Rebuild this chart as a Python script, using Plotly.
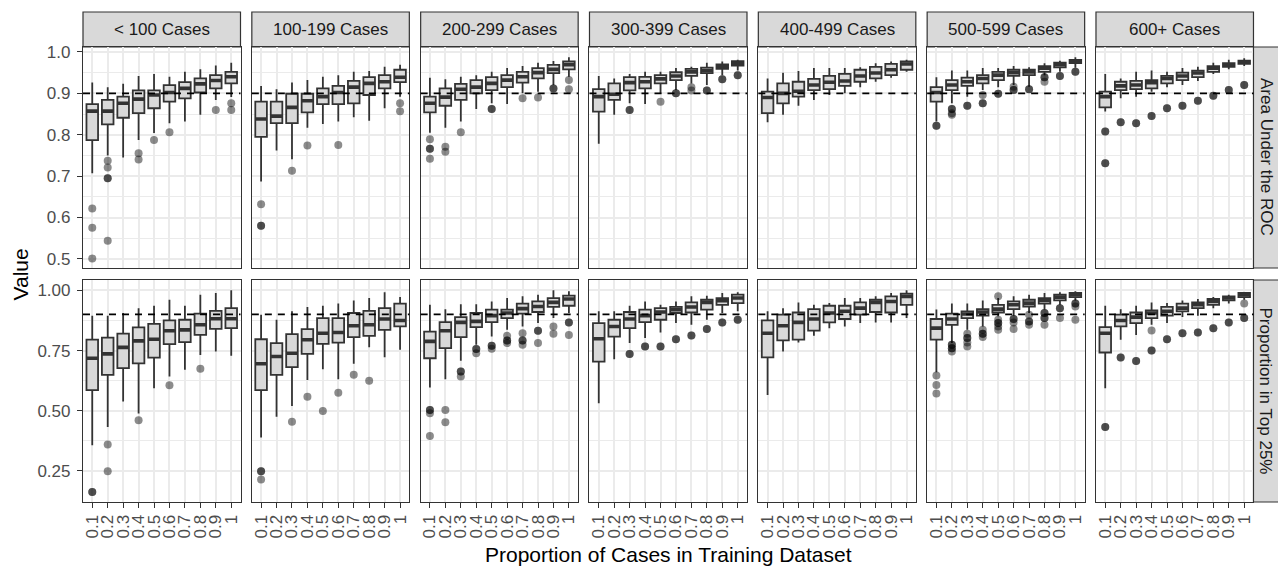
import plotly.graph_objects as go

# ---------------------------------------------------------------- data
proportions = ["0.1", "0.2", "0.3", "0.4", "0.5", "0.6", "0.7", "0.8", "0.9", "1"]
size_groups = ["< 100 Cases", "100-199 Cases", "200-299 Cases", "300-399 Cases",
               "400-499 Cases", "500-599 Cases", "600+ Cases"]
metrics = ["Area Under the ROC", "Proportion in Top 25%"]

# Box statistics per panel: lower whisker, q1, median, q3, upper whisker, outliers
auc_lt100 = dict(
    lo=[0.707, 0.750, 0.745, 0.787, 0.804, 0.828, 0.832, 0.848, 0.884, 0.891],
    q1=[0.787, 0.825, 0.841, 0.852, 0.864, 0.880, 0.888, 0.902, 0.912, 0.924],
    med=[0.857, 0.857, 0.876, 0.886, 0.896, 0.902, 0.912, 0.923, 0.931, 0.940],
    q3=[0.874, 0.884, 0.892, 0.907, 0.907, 0.920, 0.927, 0.936, 0.944, 0.952],
    hi=[0.926, 0.915, 0.923, 0.942, 0.947, 0.940, 0.952, 0.958, 0.967, 0.974],
    out=[[0.622, 0.575, 0.501], [0.737, 0.721, 0.695, 0.695, 0.544], [], [0.755, 0.740],
         [0.787], [0.806], [], [], [0.860], [0.876, 0.860]])
auc_100 = dict(
    lo=[0.687, 0.762, 0.741, 0.817, 0.826, 0.832, 0.842, 0.834, 0.864, 0.892],
    q1=[0.795, 0.828, 0.828, 0.854, 0.874, 0.874, 0.876, 0.896, 0.912, 0.927],
    med=[0.838, 0.845, 0.866, 0.882, 0.892, 0.902, 0.915, 0.924, 0.928, 0.939],
    q3=[0.880, 0.880, 0.899, 0.899, 0.912, 0.918, 0.930, 0.939, 0.944, 0.957],
    hi=[0.918, 0.910, 0.926, 0.932, 0.940, 0.944, 0.952, 0.954, 0.964, 0.969],
    out=[[0.632, 0.580, 0.580], [], [0.713], [0.774], [], [0.775], [], [], [], [0.876, 0.857]])
auc_200 = dict(
    lo=[0.805, 0.817, 0.832, 0.862, 0.876, 0.874, 0.900, 0.904, 0.920, 0.940],
    q1=[0.854, 0.870, 0.884, 0.900, 0.908, 0.915, 0.926, 0.936, 0.949, 0.958],
    med=[0.876, 0.891, 0.910, 0.915, 0.924, 0.932, 0.940, 0.950, 0.958, 0.969],
    q3=[0.892, 0.912, 0.923, 0.932, 0.939, 0.944, 0.952, 0.961, 0.969, 0.977],
    hi=[0.938, 0.934, 0.940, 0.944, 0.952, 0.961, 0.966, 0.974, 0.978, 0.987],
    out=[[0.789, 0.766, 0.766, 0.742], [0.771, 0.759], [0.806], [], [0.862, 0.862], [],
         [0.888], [0.890], [0.912, 0.912], [0.932, 0.910]])
auc_300 = dict(
    lo=[0.778, 0.848, 0.876, 0.874, 0.899, 0.908, 0.924, 0.920, 0.944, 0.955],
    q1=[0.856, 0.884, 0.907, 0.912, 0.924, 0.932, 0.942, 0.949, 0.959, 0.967],
    med=[0.892, 0.898, 0.926, 0.928, 0.935, 0.942, 0.952, 0.955, 0.964, 0.973],
    q3=[0.910, 0.924, 0.939, 0.940, 0.944, 0.951, 0.959, 0.962, 0.970, 0.978],
    hi=[0.942, 0.936, 0.947, 0.952, 0.952, 0.961, 0.964, 0.974, 0.977, 0.981],
    out=[[], [], [0.860, 0.860], [], [0.880], [0.900, 0.900], [0.915, 0.907],
         [0.907, 0.907], [0.934, 0.934], [0.944, 0.944]])
auc_400 = dict(
    lo=[0.830, 0.848, 0.870, 0.884, 0.896, 0.900, 0.915, 0.928, 0.938, 0.952],
    q1=[0.852, 0.876, 0.892, 0.908, 0.910, 0.918, 0.928, 0.936, 0.944, 0.957],
    med=[0.890, 0.900, 0.905, 0.920, 0.927, 0.930, 0.942, 0.949, 0.957, 0.971],
    q3=[0.904, 0.924, 0.928, 0.935, 0.942, 0.947, 0.957, 0.964, 0.971, 0.977],
    hi=[0.936, 0.950, 0.954, 0.961, 0.961, 0.961, 0.963, 0.973, 0.977, 0.981],
    out=[[], [], [], [], [], [], [], [], [], []])
auc_500 = dict(
    lo=[0.832, 0.876, 0.892, 0.908, 0.915, 0.920, 0.916, 0.944, 0.952, 0.962],
    q1=[0.880, 0.908, 0.918, 0.924, 0.932, 0.942, 0.944, 0.952, 0.963, 0.973],
    med=[0.902, 0.920, 0.928, 0.936, 0.944, 0.950, 0.952, 0.961, 0.969, 0.977],
    q3=[0.915, 0.932, 0.938, 0.944, 0.952, 0.957, 0.957, 0.966, 0.974, 0.981],
    hi=[0.939, 0.955, 0.955, 0.961, 0.961, 0.966, 0.963, 0.973, 0.979, 0.987],
    out=[[0.822, 0.822], [0.862, 0.862, 0.852, 0.848], [0.870, 0.870], [0.896, 0.876, 0.876],
         [0.899, 0.899], [0.916, 0.908, 0.908], [0.910, 0.910], [0.939, 0.939, 0.928],
         [0.942, 0.942], [0.952, 0.952]])
auc_600 = dict(
    lo=[0.856, 0.888, 0.892, 0.904, 0.915, 0.920, 0.930, 0.947, 0.958, 0.966],
    q1=[0.866, 0.908, 0.910, 0.912, 0.924, 0.932, 0.939, 0.952, 0.964, 0.971],
    med=[0.892, 0.918, 0.920, 0.926, 0.936, 0.942, 0.949, 0.961, 0.969, 0.975],
    q3=[0.904, 0.928, 0.930, 0.932, 0.942, 0.950, 0.955, 0.966, 0.973, 0.979],
    hi=[0.947, 0.936, 0.952, 0.955, 0.952, 0.961, 0.964, 0.974, 0.981, 0.985],
    out=[[0.808, 0.808, 0.731, 0.731], [0.830, 0.830], [0.828, 0.828], [0.845, 0.845],
         [0.864, 0.864], [0.870, 0.870], [0.882, 0.882], [0.894, 0.894], [0.908, 0.908],
         [0.920, 0.920]])

top_lt100 = dict(
    lo=[0.357, 0.433, 0.538, 0.489, 0.593, 0.642, 0.670, 0.732, 0.746, 0.728],
    q1=[0.586, 0.649, 0.677, 0.697, 0.721, 0.777, 0.785, 0.815, 0.840, 0.843],
    med=[0.718, 0.736, 0.763, 0.790, 0.797, 0.832, 0.836, 0.857, 0.882, 0.882],
    q3=[0.795, 0.804, 0.820, 0.846, 0.861, 0.875, 0.878, 0.903, 0.915, 0.926],
    hi=[0.895, 0.895, 0.906, 0.926, 0.936, 0.961, 0.936, 0.982, 0.989, 1.000],
    out=[[0.163, 0.163], [0.360, 0.249], [], [0.461], [], [0.606], [], [0.674], [], []])
top_100 = dict(
    lo=[0.389, 0.475, 0.520, 0.628, 0.672, 0.631, 0.695, 0.764, 0.722, 0.753],
    q1=[0.586, 0.649, 0.681, 0.736, 0.778, 0.783, 0.806, 0.811, 0.836, 0.850],
    med=[0.695, 0.725, 0.739, 0.795, 0.822, 0.825, 0.853, 0.857, 0.881, 0.875],
    q3=[0.797, 0.781, 0.818, 0.839, 0.885, 0.885, 0.906, 0.915, 0.926, 0.945],
    hi=[0.899, 0.878, 0.913, 0.931, 0.936, 0.945, 0.958, 0.968, 0.992, 0.972],
    out=[[0.249, 0.249, 0.214], [], [0.454], [0.558], [0.499], [0.575], [0.649], [0.625], [], []])
top_200 = dict(
    lo=[0.597, 0.631, 0.708, 0.774, 0.808, 0.836, 0.850, 0.864, 0.885, 0.906],
    q1=[0.718, 0.760, 0.806, 0.847, 0.868, 0.885, 0.903, 0.910, 0.931, 0.936],
    med=[0.788, 0.832, 0.867, 0.871, 0.895, 0.906, 0.924, 0.933, 0.950, 0.964],
    q3=[0.829, 0.868, 0.889, 0.906, 0.920, 0.920, 0.945, 0.954, 0.968, 0.978],
    hi=[0.940, 0.922, 0.942, 0.942, 0.954, 0.968, 0.975, 0.982, 1.000, 0.996],
    out=[[0.503, 0.503, 0.490, 0.395], [0.503, 0.452], [0.663, 0.663, 0.642],
         [0.756, 0.756, 0.739], [0.770, 0.770, 0.757], [0.811, 0.792, 0.792, 0.781],
         [0.822, 0.792, 0.792, 0.774], [0.832, 0.832, 0.781], [0.850, 0.820],
         [0.867, 0.867, 0.815]])
top_300 = dict(
    lo=[0.531, 0.714, 0.781, 0.802, 0.825, 0.864, 0.857, 0.878, 0.906, 0.913],
    q1=[0.704, 0.808, 0.843, 0.868, 0.878, 0.906, 0.908, 0.920, 0.940, 0.947],
    med=[0.799, 0.850, 0.881, 0.895, 0.910, 0.920, 0.931, 0.950, 0.957, 0.968],
    q3=[0.864, 0.878, 0.910, 0.920, 0.926, 0.931, 0.950, 0.961, 0.968, 0.982],
    hi=[0.913, 0.913, 0.936, 0.954, 0.940, 0.954, 0.975, 0.978, 0.989, 0.992],
    out=[[], [], [0.736, 0.736], [0.767, 0.767], [0.767, 0.767], [0.797, 0.797],
         [0.812, 0.812], [0.839, 0.839], [0.867, 0.867], [0.878, 0.878]])
top_400 = dict(
    lo=[0.565, 0.746, 0.783, 0.811, 0.843, 0.850, 0.864, 0.867, 0.867, 0.885],
    q1=[0.722, 0.792, 0.795, 0.833, 0.867, 0.881, 0.899, 0.910, 0.908, 0.940],
    med=[0.822, 0.853, 0.867, 0.881, 0.906, 0.913, 0.926, 0.950, 0.954, 0.975],
    q3=[0.875, 0.899, 0.908, 0.922, 0.936, 0.936, 0.950, 0.961, 0.975, 0.986],
    hi=[0.913, 0.926, 0.950, 0.940, 0.947, 0.968, 0.968, 0.975, 0.989, 1.000],
    out=[[], [], [], [], [], [], [], [], [], []])
top_500 = dict(
    lo=[0.660, 0.781, 0.836, 0.850, 0.892, 0.895, 0.906, 0.920, 0.940, 0.958],
    q1=[0.795, 0.857, 0.885, 0.895, 0.908, 0.922, 0.933, 0.945, 0.958, 0.972],
    med=[0.843, 0.881, 0.902, 0.910, 0.922, 0.940, 0.947, 0.958, 0.972, 0.982],
    q3=[0.881, 0.903, 0.913, 0.922, 0.940, 0.954, 0.961, 0.968, 0.982, 0.989],
    hi=[0.920, 0.945, 0.945, 0.958, 0.968, 0.975, 0.982, 0.989, 0.992, 0.996],
    out=[[0.646, 0.607, 0.572], [0.774, 0.774, 0.760, 0.760, 0.746],
         [0.820, 0.802, 0.802, 0.783, 0.767], [0.836, 0.820, 0.820, 0.806],
         [0.975, 0.878, 0.864, 0.864, 0.850, 0.836], [0.881, 0.881, 0.867, 0.839],
         [0.899, 0.871, 0.871, 0.857], [0.906, 0.906, 0.885, 0.885, 0.857],
         [0.926, 0.926, 0.885], [0.945, 0.945, 0.933, 0.878]])
top_600 = dict(
    lo=[0.593, 0.795, 0.815, 0.857, 0.864, 0.889, 0.895, 0.926, 0.945, 0.961],
    q1=[0.742, 0.850, 0.864, 0.885, 0.895, 0.913, 0.926, 0.940, 0.958, 0.972],
    med=[0.822, 0.875, 0.889, 0.906, 0.913, 0.926, 0.940, 0.954, 0.968, 0.982],
    q3=[0.847, 0.899, 0.908, 0.917, 0.931, 0.945, 0.950, 0.964, 0.975, 0.989],
    hi=[0.936, 0.922, 0.936, 0.950, 0.947, 0.958, 0.964, 0.972, 0.982, 0.992],
    out=[[0.433, 0.433], [0.721, 0.721], [0.707, 0.707], [0.833, 0.750, 0.750],
         [0.797, 0.797], [0.822, 0.822], [0.825, 0.825], [0.843, 0.843], [0.867, 0.867],
         [0.945, 0.885, 0.885]])

auc_panels = [auc_lt100, auc_100, auc_200, auc_300, auc_400, auc_500, auc_600]
top_panels = [top_lt100, top_100, top_200, top_300, top_400, top_500, top_600]

reference_value = 0.9

auc_ticks = [0.5, 0.6, 0.7, 0.8, 0.9, 1.0]
auc_ticktext = ["0.5", "0.6", "0.7", "0.8", "0.9", "1.0"]
top_ticks = [0.25, 0.50, 0.75, 1.00]
top_ticktext = ["0.25", "0.50", "0.75", "1.00"]

# ---------------------------------------------------------------- styling
W, H = 1278, 569
FONT = "Liberation Sans, Arial, Helvetica, sans-serif"
GRID = "#EBEBEB"
FRAME = "#333333"
TEXT_AXIS = "#4D4D4D"
STRIP_FILL = "#D9D9D9"
BOX_FILL = "#D9D9D9"
BOX_LINE = "#333333"

PANEL_LEFT = 83.0
PANEL_PITCH = 168.83
PANEL_W = 157.5
ROW_TOP = [47.0, 280.0]
ROW_BOT = [268.0, 502.0]
STRIP_TOP = 12.0
BOX_W = 0.75

row_ranges = [[0.478, 1.012], [0.121, 1.043]]
row_ticks = [(auc_ticks, auc_ticktext), (top_ticks, top_ticktext)]
row_minor = [[0.55, 0.65, 0.75, 0.85, 0.95], [0.125, 0.375, 0.625, 0.875]]


def fx(p):
    return p / W


def fy(p):
    return 1 - p / H


xpos = list(range(1, len(proportions) + 1))

fig = go.Figure()
layout = dict(shapes=[], annotations=[])

for r, panels in enumerate([auc_panels, top_panels]):
    for c, st in enumerate(panels):
        idx = r * 7 + c + 1
        xa = "x" if idx == 1 else f"x{idx}"
        ya = "y" if idx == 1 else f"y{idx}"
        xkey = "xaxis" if idx == 1 else f"xaxis{idx}"
        ykey = "yaxis" if idx == 1 else f"yaxis{idx}"

        # outlying points (drawn first, beneath the boxes)
        ox, oy = [], []
        for k, pts in enumerate(st["out"]):
            for v in pts:
                ox.append(xpos[k])
                oy.append(v)
        fig.add_trace(go.Scatter(
            x=ox, y=oy, mode="markers", xaxis=xa, yaxis=ya, showlegend=False,
            hoverinfo="skip",
            marker=dict(size=8, color="rgba(0,0,0,0.45)", line=dict(width=0))))

        # boxes from precomputed statistics
        fig.add_trace(go.Box(
            x=xpos, q1=st["q1"], median=st["med"], q3=st["q3"],
            lowerfence=st["lo"], upperfence=st["hi"], width=BOX_W, whiskerwidth=0,
            boxpoints=False, fillcolor=BOX_FILL, line=dict(color=BOX_LINE, width=1.8),
            xaxis=xa, yaxis=ya, showlegend=False, hoverinfo="skip"))

        # thicker median bars
        mx, my = [], []
        for k, m in enumerate(st["med"]):
            mx += [xpos[k] - BOX_W / 2, xpos[k] + BOX_W / 2, None]
            my += [m, m, None]
        fig.add_trace(go.Scatter(
            x=mx, y=my, mode="lines", xaxis=xa, yaxis=ya, showlegend=False,
            hoverinfo="skip", line=dict(color=BOX_LINE, width=3.6)))

        left = PANEL_LEFT + c * PANEL_PITCH
        right = left + PANEL_W
        tv, tt = row_ticks[r]
        layout[xkey] = dict(
            domain=[fx(left), fx(right)], anchor=ya, range=[0.4, 10.6],
            tickvals=xpos, ticktext=proportions, tickangle=-90,
            showticklabels=(r == 1), ticks="outside" if r == 1 else "",
            ticklen=5, tickwidth=1.2, tickcolor=FRAME,
            tickfont=dict(size=17, color=TEXT_AXIS, family=FONT),
            showgrid=True, gridcolor=GRID, gridwidth=1.8, zeroline=False,
            showline=True, mirror=True, linecolor=FRAME, linewidth=1.2,
            automargin=False, fixedrange=True)
        layout[ykey] = dict(
            domain=[fy(ROW_BOT[r]), fy(ROW_TOP[r])], anchor=xa, range=row_ranges[r],
            tickvals=tv, ticktext=tt, showticklabels=(c == 0),
            ticks="outside" if c == 0 else "", ticklen=5, tickwidth=1.2, tickcolor=FRAME,
            ticklabelstandoff=3,
            tickfont=dict(size=17, color=TEXT_AXIS, family=FONT),
            showgrid=True, gridcolor=GRID, gridwidth=1.8, zeroline=False,
            minor=dict(tickvals=row_minor[r], showgrid=True, gridcolor=GRID, gridwidth=0.9),
            showline=True, mirror=True, linecolor=FRAME, linewidth=1.2,
            automargin=False, fixedrange=True)

        # dashed reference line
        layout["shapes"].append(dict(
            type="line", xref=f"{xa} domain", x0=0, x1=1, yref=ya,
            y0=reference_value, y1=reference_value, layer="above",
            line=dict(color="black", width=1.8, dash="7px,6px")))

        # column strip on the top row
        if r == 0:
            layout["shapes"].append(dict(
                type="rect", xref="paper", yref="paper",
                x0=fx(left), x1=fx(right), y0=fy(ROW_TOP[0]), y1=fy(STRIP_TOP),
                fillcolor=STRIP_FILL, line=dict(color=FRAME, width=1.2), layer="below"))
            layout["annotations"].append(dict(
                text=size_groups[c], xref="paper", yref="paper",
                x=fx((left + right) / 2), y=fy((ROW_TOP[0] + STRIP_TOP) / 2),
                xanchor="center", yanchor="middle", showarrow=False,
                font=dict(size=17, color="#1A1A1A", family=FONT)))

    # row strip on the right
    strip_left = PANEL_LEFT + 6 * PANEL_PITCH + PANEL_W
    layout["shapes"].append(dict(
        type="rect", xref="paper", yref="paper",
        x0=fx(strip_left), x1=fx(strip_left + 40), y0=fy(ROW_BOT[r]), y1=fy(ROW_TOP[r]),
        fillcolor=STRIP_FILL, line=dict(color=FRAME, width=1.2), layer="below"))
    layout["annotations"].append(dict(
        text=metrics[r], xref="paper", yref="paper", textangle=90,
        x=fx(strip_left + 13), y=fy((ROW_TOP[r] + ROW_BOT[r]) / 2),
        xanchor="center", yanchor="middle", showarrow=False,
        font=dict(size=17, color="#1A1A1A", family=FONT)))

# axis titles
layout["annotations"].append(dict(
    text="Value", xref="paper", yref="paper", textangle=-90,
    x=fx(20), y=fy((ROW_TOP[0] + ROW_BOT[1]) / 2), xanchor="center", yanchor="middle",
    showarrow=False, font=dict(size=21, color="black", family=FONT)))
layout["annotations"].append(dict(
    text="Proportion of Cases in Training Dataset", xref="paper", yref="paper",
    x=fx((PANEL_LEFT + PANEL_LEFT + 6 * PANEL_PITCH + PANEL_W) / 2), y=fy(554),
    xanchor="center", yanchor="middle", showarrow=False,
    font=dict(size=21, color="black", family=FONT)))

fig.update_layout(
    width=W, height=H, margin=dict(l=0, r=0, t=0, b=0),
    paper_bgcolor="white", plot_bgcolor="white",
    font=dict(family=FONT), showlegend=False, **layout)

fig.write_html("out.html")
